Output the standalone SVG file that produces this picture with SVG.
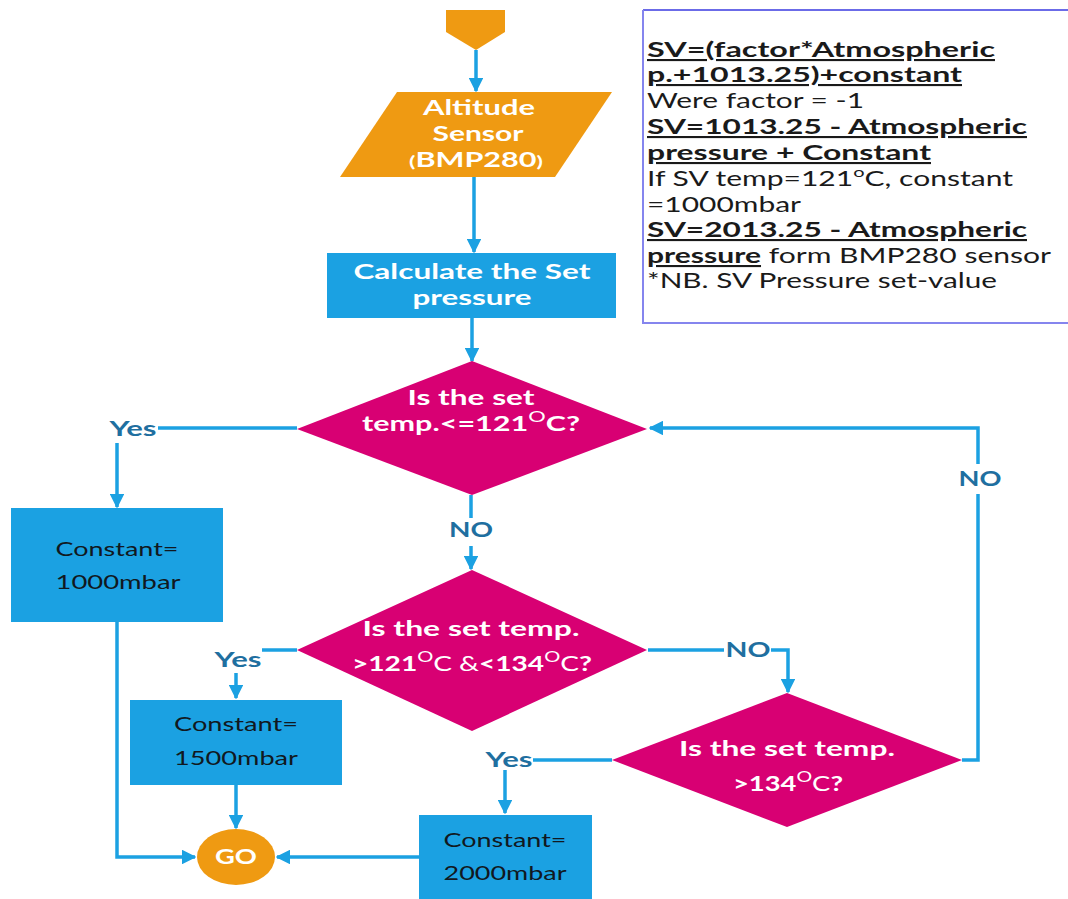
<svg xmlns="http://www.w3.org/2000/svg" width="1068" height="899" viewBox="0 0 1068 899">
  <style>
    .orange { fill: #ef9a12; }
    .blue { fill: #1ba1e2; }
    .mag { fill: #d80073; }
    .wt { font-family: Lato, "Open Sans", "DejaVu Sans", sans-serif; font-size: 21px; font-weight: 700; fill: #ffffff; text-anchor: middle; }
    .bt { font-family: Lato, "Open Sans", "DejaVu Sans", sans-serif; font-size: 19px; fill: #111820; text-anchor: middle; }
    .lbl { font-family: Lato, "Open Sans", "DejaVu Sans", sans-serif; font-size: 20px; font-weight: 700; fill: #1f6fa0; text-anchor: middle; }
    .note { font-family: Lato, "Open Sans", "DejaVu Sans", sans-serif; font-size: 21px; fill: #1a1a1a; }
    .b { font-weight: 700; text-decoration: underline; }
    .n { font-weight: 400; }
    .wire { fill: none; stroke: #1ba1e2; stroke-width: 3.5; }
  </style>
  <defs>
    <marker id="arrow" viewBox="0 0 10 10" refX="9" refY="5" markerWidth="4.2" markerHeight="4.2" markerUnits="strokeWidth" orient="auto">
      <path d="M0,0 L10,5 L0,10 z" fill="#1ba1e2"/>
    </marker>
  </defs>
  <rect width="1068" height="899" fill="#ffffff"/>

  <!-- connectors -->
  <g id="connectors">
    <path class="wire" d="M476,50 L476,91" marker-end="url(#arrow)"/>
    <path class="wire" d="M474,177 L474,252" marker-end="url(#arrow)"/>
    <path class="wire" d="M472,318 L472,361" marker-end="url(#arrow)"/>
    <path class="wire" d="M471,495 L471,518 M471,546 L471,569" marker-end="url(#arrow)"/>
    <path class="wire" d="M297,428 L158,428"/>
    <path class="wire" d="M117,443 L117,507" marker-end="url(#arrow)"/>
    <path class="wire" d="M117,622 L117,857 L195,857" marker-end="url(#arrow)"/>
    <path class="wire" d="M297,650 L262,650"/>
    <path class="wire" d="M236,673 L236,698" marker-end="url(#arrow)"/>
    <path class="wire" d="M236,785 L236,828" marker-end="url(#arrow)"/>
    <path class="wire" d="M648,650 L724,650"/>
    <path class="wire" d="M771,650 L788,650 L788,692" marker-end="url(#arrow)"/>
    <path class="wire" d="M612,760 L533,760"/>
    <path class="wire" d="M505,770 L505,813" marker-end="url(#arrow)"/>
    <path class="wire" d="M419,857 L277,857" marker-end="url(#arrow)"/>
    <path class="wire" d="M962,760 L978,760 L978,494 M978,464 L978,428 L650,428" marker-end="url(#arrow)"/>
    <text class="lbl" x="133" y="436" textLength="47" lengthAdjust="spacingAndGlyphs">Yes</text>
    <text class="lbl" x="471" y="537" textLength="44" lengthAdjust="spacingAndGlyphs">NO</text>
    <text class="lbl" x="238" y="667" textLength="47" lengthAdjust="spacingAndGlyphs">Yes</text>
    <text class="lbl" x="748" y="657" textLength="45" lengthAdjust="spacingAndGlyphs">NO</text>
    <text class="lbl" x="509" y="767" textLength="47" lengthAdjust="spacingAndGlyphs">Yes</text>
    <text class="lbl" x="980" y="486" textLength="43" lengthAdjust="spacingAndGlyphs">NO</text>
  </g>

  <!-- off-page entry -->
  <g id="entry">
    <path class="orange" d="M446,10 L505,10 L505,32 L476,50 L446,32 z"/>
  </g>

  <g id="sensor">
    <path class="orange" d="M397,92 L612,92 L555,177 L340,177 z"/>
    <text class="wt" x="479" y="115" textLength="112" lengthAdjust="spacingAndGlyphs">Altitude</text>
    <text class="wt" x="478" y="141" textLength="91" lengthAdjust="spacingAndGlyphs">Sensor</text>
    <text class="wt" x="476" y="167" textLength="134" lengthAdjust="spacingAndGlyphs"><tspan font-size="16">(</tspan>BMP280<tspan font-size="16">)</tspan></text>
  </g>

  <g id="calc">
    <rect class="blue" x="327" y="253" width="289" height="65"/>
    <text class="wt" x="472" y="279" textLength="237" lengthAdjust="spacingAndGlyphs">Calculate the Set</text>
    <text class="wt" x="472" y="305" textLength="119" lengthAdjust="spacingAndGlyphs">pressure</text>
  </g>

  <g id="check121">
    <path class="mag" d="M472,361 L647,429 L472,495 L297,429 z"/>
    <text class="wt" x="471" y="405" textLength="127" lengthAdjust="spacingAndGlyphs">Is the set</text>
    <text class="wt" x="471" y="431" textLength="218" lengthAdjust="spacingAndGlyphs">temp.&lt;=121<tspan class="n" font-size="15" dy="-9">O</tspan><tspan dy="9">C?</tspan></text>
  </g>

  <g id="check121to134">
    <path class="mag" d="M472,570 L647,650 L472,731 L297,650 z"/>
    <text class="wt" x="471" y="636" textLength="217" lengthAdjust="spacingAndGlyphs">Is the set temp.</text>
    <text class="wt" x="472" y="671" textLength="240" lengthAdjust="spacingAndGlyphs">&gt;121<tspan class="n" font-size="15" dy="-9">O</tspan><tspan class="n" dy="9">C</tspan> <tspan class="n">&amp;</tspan>&lt;134<tspan class="n" font-size="15" dy="-9">O</tspan><tspan class="n" dy="9">C</tspan>?</text>
  </g>

  <g id="check134">
    <path class="mag" d="M787,693 L962,760 L787,827 L612,760 z"/>
    <text class="wt" x="787" y="756" textLength="216" lengthAdjust="spacingAndGlyphs">Is the set temp.</text>
    <text class="wt" x="788" y="791" textLength="110" lengthAdjust="spacingAndGlyphs">&gt;134<tspan class="n" font-size="15" dy="-9">O</tspan><tspan class="n" dy="9">C</tspan>?</text>
  </g>

  <g id="const1000">
    <rect class="blue" x="11" y="508" width="212" height="114"/>
    <text class="bt" x="117" y="556" textLength="123" lengthAdjust="spacingAndGlyphs">Constant=</text>
    <text class="bt" x="118" y="589" textLength="125" lengthAdjust="spacingAndGlyphs">1000mbar</text>
  </g>

  <g id="const1500">
    <rect class="blue" x="130" y="700" width="212" height="85"/>
    <text class="bt" x="236" y="731" textLength="124" lengthAdjust="spacingAndGlyphs">Constant=</text>
    <text class="bt" x="236" y="765" textLength="124" lengthAdjust="spacingAndGlyphs">1500mbar</text>
  </g>

  <g id="const2000">
    <rect class="blue" x="419" y="815" width="173" height="84"/>
    <text class="bt" x="505" y="847" textLength="123" lengthAdjust="spacingAndGlyphs">Constant=</text>
    <text class="bt" x="505" y="880" textLength="123" lengthAdjust="spacingAndGlyphs">2000mbar</text>
  </g>

  <g id="go">
    <ellipse class="orange" cx="236" cy="857" rx="39" ry="28"/>
    <text class="wt" x="236" y="864" font-size="20" textLength="42" lengthAdjust="spacingAndGlyphs">GO</text>
  </g>

  <!-- note panel -->
  <g id="note">
    <rect x="643" y="10" width="430" height="313" fill="#ffffff"/>
    <path d="M643,10 L1068,10" stroke="#3a3ae0" stroke-width="1.5" fill="none"/>
    <path d="M643,10 L643,323 L1068,323" stroke="#8585ee" stroke-width="2" fill="none"/>
    <text class="note" x="647" y="57" textLength="348" lengthAdjust="spacingAndGlyphs"><tspan class="b">SV=(factor*Atmospheric</tspan></text>
    <text class="note" x="647" y="82" textLength="315" lengthAdjust="spacingAndGlyphs"><tspan class="b">p.+1013.25)+constant</tspan></text>
    <text class="note" x="647" y="108" textLength="217" lengthAdjust="spacingAndGlyphs">Were factor = -1</text>
    <text class="note" x="647" y="134" textLength="380" lengthAdjust="spacingAndGlyphs"><tspan class="b">SV=1013.25 - Atmospheric</tspan></text>
    <text class="note" x="647" y="160" textLength="284" lengthAdjust="spacingAndGlyphs"><tspan class="b">pressure + Constant</tspan></text>
    <text class="note" x="647" y="186" textLength="366" lengthAdjust="spacingAndGlyphs">If SV temp=121<tspan font-size="14" dy="-9">o</tspan><tspan dy="9">C, constant</tspan></text>
    <text class="note" x="647" y="212" textLength="154" lengthAdjust="spacingAndGlyphs">=1000mbar</text>
    <text class="note" x="647" y="237" textLength="380" lengthAdjust="spacingAndGlyphs"><tspan class="b">SV=2013.25 - Atmospheric</tspan></text>
    <text class="note" x="647" y="263" textLength="404" lengthAdjust="spacingAndGlyphs"><tspan class="b">pressure</tspan> form BMP280 sensor</text>
    <text class="note" x="647" y="288" textLength="350" lengthAdjust="spacingAndGlyphs">*NB. SV Pressure set-value</text>
  </g>
</svg>
